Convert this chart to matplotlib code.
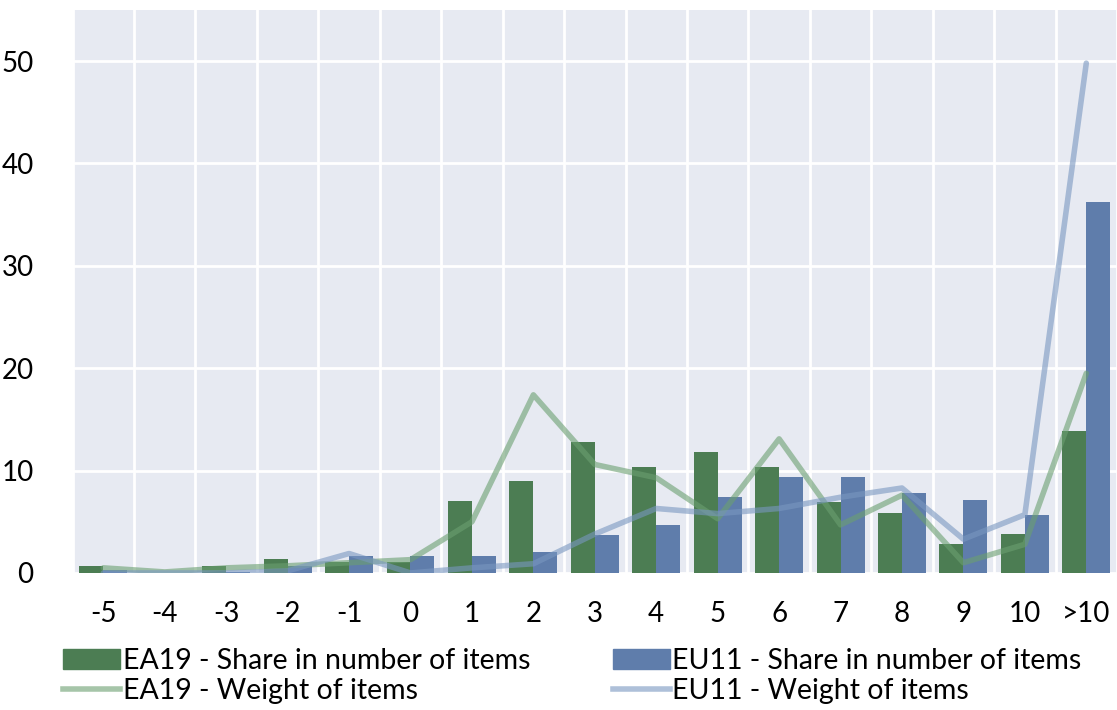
import numpy as np
import matplotlib.pyplot as plt
from matplotlib.lines import Line2D
from matplotlib.patches import Patch

plt.rcParams['font.family'] = ['Lato', 'DejaVu Sans']

categories = ['-5', '-4', '-3', '-2', '-1', '0', '1', '2', '3', '4', '5', '6', '7', '8', '9', '10', '>10']
ea19_share = [0.7, 0.0, 0.7, 1.4, 1.1, 1.1, 7.0, 9.0, 12.8, 10.4, 11.8, 10.4, 6.9, 5.9, 2.8, 3.8, 13.9]
eu11_share = [0.3, 0.0, 0.1, 0.7, 1.7, 1.7, 1.7, 2.0, 3.7, 4.7, 7.4, 9.4, 9.4, 7.8, 7.1, 5.7, 36.2]
ea19_weight = [0.5, 0.1, 0.5, 0.7, 1.0, 1.3, 5.0, 17.4, 10.6, 9.3, 5.3, 13.1, 4.7, 7.6, 1.0, 2.8, 19.5]
eu11_weight = [0.0, 0.0, 0.0, 0.2, 1.9, 0.0, 0.5, 0.9, 3.8, 6.3, 5.8, 6.3, 7.4, 8.3, 3.3, 5.7, 49.8]

green = '#4c7d53'
blue = '#5f7dab'
green_l = '#6b9f70'
blue_l = '#7997c0'

fig = plt.figure(figsize=(11.17, 7.10), dpi=100)
ax = fig.add_axes([0.065, 0.193, 0.935, 0.793])
ax.set_facecolor('#e7eaf2')

x = np.arange(len(categories))
w = 0.39
ax.bar(x - w / 2, ea19_share, w, color=green, zorder=2)
ax.bar(x + w / 2, eu11_share, w, color=blue, zorder=2)
ax.plot(x, ea19_weight, color=green_l, lw=4, alpha=0.6, zorder=3, solid_capstyle='round')
ax.plot(x, eu11_weight, color=blue_l, lw=4, alpha=0.6, zorder=3, solid_capstyle='round')

ax.set_xlim(-0.5, len(categories) - 0.5)
ax.set_ylim(0, 55)
ax.set_yticks([0, 10, 20, 30, 40, 50])
ax.set_xticks(x)
ax.set_xticklabels(categories)
ax.set_xticks(np.arange(-0.5, len(categories), 1), minor=True)
ax.grid(True, which='major', axis='y', color='white', lw=2, zorder=1)
ax.grid(True, which='minor', axis='x', color='white', lw=2, zorder=1)
ax.tick_params(which='both', length=0)
ax.tick_params(axis='x', pad=20, labelsize=20)
ax.tick_params(axis='y', pad=28, labelsize=20)
for s in ax.spines.values():
    s.set_visible(False)

handles = [
    Patch(color=green, label='EA19 - Share in number of items'),
    Line2D([], [], color=green_l, alpha=0.6, lw=4, label='EA19 - Weight of items'),
    Patch(color=blue, label='EU11 - Share in number of items'),
    Line2D([], [], color=blue_l, alpha=0.6, lw=4, label='EU11 - Weight of items'),
]
fig.legend(handles=handles, ncol=2, loc='lower left', bbox_to_anchor=(0.046, -0.008),
           frameon=False, fontsize=20.5, handlelength=2.0, handletextpad=0.1,
           columnspacing=2.9, labelspacing=0.14, borderaxespad=0)

fig.savefig('out.png', dpi=100)
